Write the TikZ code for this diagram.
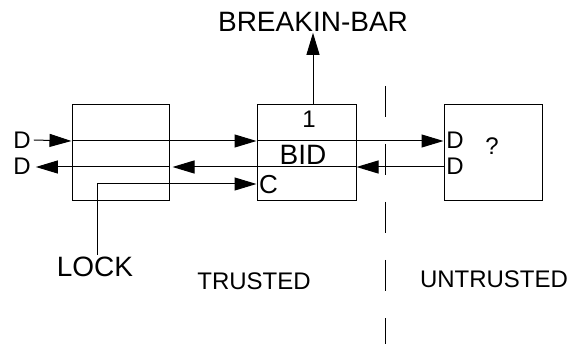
\documentclass[tikz,border=0pt]{standalone}
\usepackage{fontspec}
\setmainfont{Liberation Sans}
\usetikzlibrary{arrows.meta}
\newcommand{\fs}[1]{\fontsize{#1}{#1}\selectfont}
\begin{document}
\begin{tikzpicture}[x=1pt,y=-1pt,
  box/.style={draw,line width=1pt,minimum width=97pt,minimum height=96pt,inner sep=0pt},
  lbl/.style={inner sep=0pt,font=\fs{24}},
  biglbl/.style={inner sep=0pt,font=\fs{28}},
  zone/.style={inner sep=0pt,font=\fs{24}},
  wire/.style={line width=1pt},
  arr/.style={wire,-{Triangle[length=22pt,width=13pt]}},
  sep/.style={line width=1pt,dash pattern=on 31pt off 27pt}]
\useasboundingbox (0,0) rectangle (572,344);
% boxes
\node[box] (b1) at (120.5,153) {};
\node[box,minimum width=99pt] (b2) at (306.5,153) {};
\node[box,minimum width=98pt] (b3) at (493,153) {};
% labels
\node[lbl] (dl1) at (22,140) {D};
\node[lbl] (dl2) at (22,166) {D};
\node[lbl] (dr1) at (455,140.5) {D};
\node[lbl] (dr2) at (455,166) {D};
\node[zone] (q) at (492,146) {?};
\node[lbl] (one) at (309,119) {1};
\node[biglbl] (bid) at (303,155) {BID};
\node[lbl,font=\fs{26}] (c) at (268.5,185) {C};
\node[biglbl] (brk) at (313,22) {BREAKIN-BAR};
\node[biglbl] (lock) at (95,267) {LOCK};
\node[zone] (tr) at (254,281) {TRUSTED};
\node[zone] (utr) at (494,279) {UNTRUSTED};
% coordinates
\coordinate (t1) at (b1.west |- 0,141);
\coordinate (t2) at (b2.west |- 0,141);
\coordinate (t3) at (b3.west |- 0,141);
\coordinate (u1) at (b1.east |- 0,167);
\coordinate (u2) at (b2.east |- 0,167);
\coordinate (u3) at (b3.west |- 0,167);
\coordinate (cj) at (97,184);
% top D line
\draw[arr] (dl1.east) ++(3,0) -- (t1);
\draw[arr] (t1) -- (t2);
\draw[arr] (t2) -- (t3);
% bottom D line
\draw[arr] (u3) -- (u2);
\draw[arr] (u2) -- ([xshift=3pt]u1);
\draw[arr] (u1) -- ([xshift=5pt]dl2.east |- 0,167);
% C line
\draw[wire] (lock.north -| cj) ++(0,-2) -- (cj);
\draw[arr] (cj) -- (b2.west |- cj);
% breakin-bar
\draw[arr] (b2.north -| brk) -- ([yshift=-1pt]brk.south);
% separator
\draw[sep] (385,86) -- (385,344);
\end{tikzpicture}
\end{document}
